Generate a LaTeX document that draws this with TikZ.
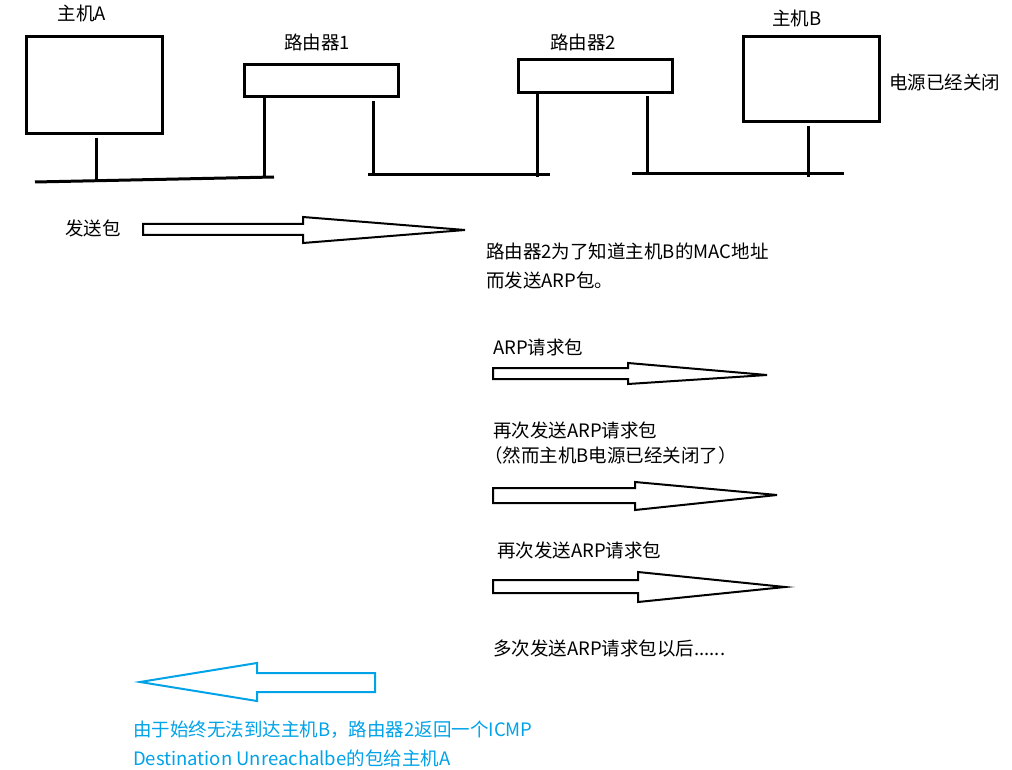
\documentclass[tikz,border=0pt]{standalone}
\usepackage{fontspec}
\setmainfont{Noto Sans CJK SC}
\definecolor{pblue}{RGB}{0,162,232}
\begin{document}
\begin{tikzpicture}[x=1pt,y=-1pt,
  every node/.style={font=\fontsize{18.5}{21}\selectfont},
  box/.style={draw, line width=3pt, inner sep=0pt},
  wire/.style={line width=3pt},
  lbl/.style={inner sep=0pt, anchor=west},
  fat/.style={draw, line width=2pt, line join=miter},
  bluefat/.style={draw=pblue, line width=2pt, line join=miter},
  bluetxt/.style={lbl, text=pblue}]
\useasboundingbox (0,0) rectangle (1012,770);

% devices
\node[box, minimum width=136pt, minimum height=97pt] (hostA) at (94,85.5) {};
\node[box, minimum width=154pt, minimum height=32pt] (r1) at (321,81) {};
\node[box, minimum width=154pt, minimum height=33pt] (r2) at (595,76.5) {};
\node[box, minimum width=136pt, minimum height=85pt] (hostB) at (811,79.5) {};

% device labels
\node[inner sep=0pt] (lA) at (82,13) {主机A};
\node[inner sep=0pt] (lR1) at (317,42) {路由器1};
\node[inner sep=0pt] (lR2) at (583,42) {路由器2};
\node[inner sep=0pt] (lB) at (797,18) {主机B};
\node[lbl] (off) at (889,82) {电源已经关闭};

% bus junctions
\coordinate (jA) at (96,181);
\coordinate (j1L) at (264,177);
\coordinate (j1R) at (373,175);
\coordinate (j2L) at (537,177);
\coordinate (j2R) at (647,174);
\coordinate (jB) at (808,177);
\coordinate (b1s) at (35,182);
\coordinate (b1e) at (274,177);
\coordinate (b2s) at (368,175);
\coordinate (b2e) at (550,175);
\coordinate (b3s) at (632,174);
\coordinate (b3e) at (844,174);

% bus segments
\draw[wire] (b1s) -- (b1e);
\draw[wire] (b2s) -- (b2e);
\draw[wire] (b3s) -- (b3e);

% stems / legs
\draw[wire] ([yshift=-3pt]hostA.south -| jA) -- (jA);
\draw[wire] (r1.south -| j1L) -- (j1L);
\draw[wire] ([yshift=-3pt]r1.south -| j1R) -- (j1R);
\draw[wire] (r2.south -| j2L) -- (j2L);
\draw[wire] ([yshift=-2pt]r2.south -| j2R) -- (j2R);
\draw[wire] ([yshift=-3pt]hostB.south -| jB) -- (jB);

% send packet
\node[lbl] (send) at (65,228) {发送包};
\draw[fat] (143,224) -- (303,224) -- (303,217) -- (465,230) -- (303,243) -- (303,235) -- (143,235) -- cycle;

\node[lbl] (t1) at (486,251) {路由器2为了知道主机B的MAC地址};
\node[lbl] (t2) at (486,280) {而发送ARP包。};

\node[lbl] (t3) at (493,347) {ARP请求包};
\draw[fat] (493,368) -- (628,368) -- (628,363) -- (767,375) -- (628,384) -- (628,379) -- (493,379) -- cycle;

\node[lbl] (t4) at (493,430) {再次发送ARP请求包};
\node[lbl] (t5) at (484,455) {（然而主机B电源已经关闭了）};
\draw[fat] (493,488) -- (635,488) -- (635,482) -- (777,495) -- (635,510) -- (635,503) -- (493,503) -- cycle;

\node[lbl] (t6) at (497,550) {再次发送ARP请求包};
\draw[fat] (493,580) -- (638,580) -- (638,572) -- (785,587) -- (638,602) -- (638,593) -- (493,593) -- cycle;

\node[lbl] (t7) at (493,648) {多次发送ARP请求包以后......};

% reply
\draw[bluefat] (375,673) -- (257,673) -- (257,663) -- (140,682) -- (257,701) -- (257,692) -- (375,692) -- cycle;
\node[bluetxt] (t8) at (133,730) {由于始终无法到达主机B，路由器2返回一个ICMP};
\node[bluetxt] (t9) at (133,758) {Destination Unreachalbe的包给主机A};
\end{tikzpicture}
\end{document}
